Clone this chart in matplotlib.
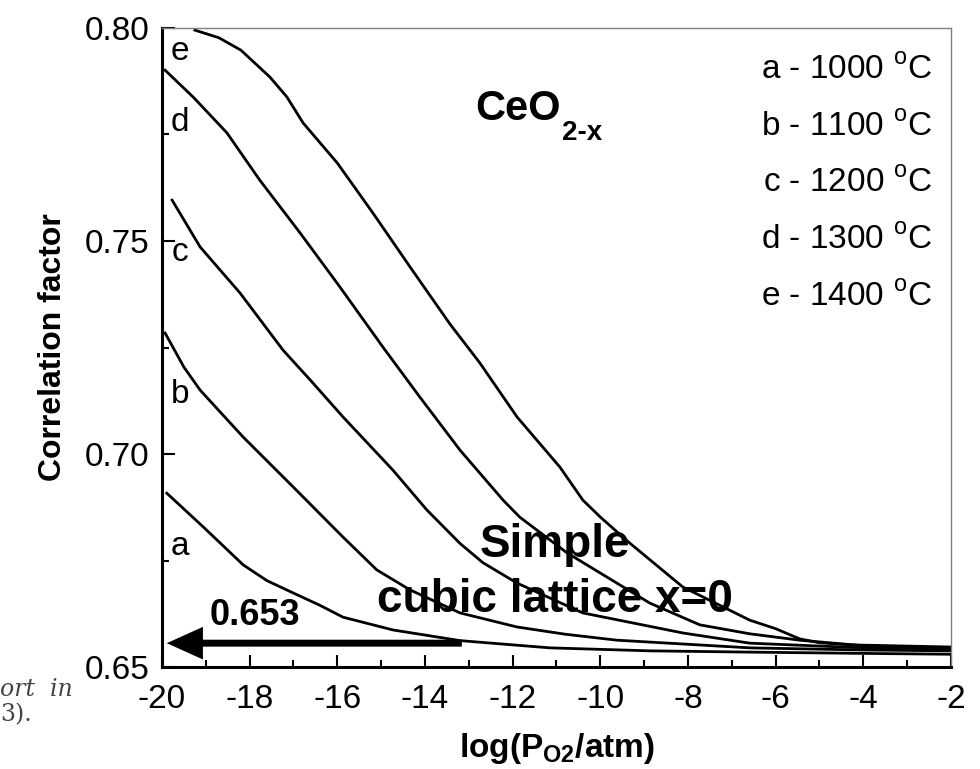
import matplotlib
matplotlib.use("Agg")
import matplotlib.pyplot as plt
from matplotlib.ticker import MultipleLocator, FormatStrFormatter

plt.rcParams['font.family'] = ['Liberation Sans', 'DejaVu Sans']
plt.rcParams['mathtext.fontset'] = 'custom'
plt.rcParams['mathtext.rm'] = 'Liberation Sans'
plt.rcParams['mathtext.bf'] = 'Liberation Sans:bold'
plt.rcParams['axes.unicode_minus'] = False

# curves (log pO2, correlation factor)
xa = [-19.89, -19.06, -18.15, -17.61, -17.01, -16.4, -15.87, -14.73, -13.2, -11.15, -8.87, -6.59, -4.0, -2.0]
ya = [0.6908, 0.6829, 0.6740, 0.6703, 0.6674, 0.6645, 0.6617, 0.6587, 0.6562, 0.6545, 0.6538, 0.6535, 0.6532, 0.6530]

xb = [-19.93, -19.5, -19.13, -18.15, -17.01, -15.87, -15.1, -14.34, -13.2, -11.9, -10.8, -9.62, -6.59, -4.0, -2.0]
yb = [0.7284, 0.7204, 0.7150, 0.7040, 0.6923, 0.6805, 0.6728, 0.6681, 0.6627, 0.6594, 0.6577, 0.6563, 0.6545, 0.6540, 0.6538]

xc = [-19.77, -19.13, -18.22, -17.24, -16.62, -15.87, -14.73, -13.96, -13.2, -12.68, -11.9, -11.15, -10.4, -8.12, -6.59, -4.0, -2.0]
yc = [0.7596, 0.7486, 0.7378, 0.7244, 0.7174, 0.7087, 0.6962, 0.6869, 0.6790, 0.6745, 0.6697, 0.6662, 0.6627, 0.6580, 0.6556, 0.6545, 0.6542]

xd = [-19.93, -19.29, -18.52, -17.77, -16.85, -15.94, -14.96, -14.12, -13.2, -12.22, -11.84, -10.76, -8.87, -7.73, -6.59, -5.45, -4.0, -2.0]
yd = [0.7901, 0.7838, 0.7754, 0.7643, 0.7519, 0.7392, 0.7251, 0.7134, 0.7009, 0.6892, 0.6852, 0.6768, 0.6650, 0.6599, 0.6578, 0.6563, 0.6550, 0.6545]

xe = [-19.25, -18.7, -18.2, -17.54, -17.15, -16.78, -16.0, -15.19, -14.34, -13.43, -12.75, -11.9, -10.92, -10.4, -10.0,
      -9.33, -8.12, -6.59, -6.0, -5.45, -5.0, -4.31, -2.0]
ye = [0.7995, 0.7977, 0.7948, 0.7885, 0.7838, 0.7777, 0.7683, 0.7566, 0.7439, 0.7305, 0.7214, 0.7087, 0.6969, 0.6892, 0.6852,
      0.6791, 0.6688, 0.6610, 0.6590, 0.6566, 0.6557, 0.6552, 0.6547]

curve_labels = ['a', 'b', 'c', 'd', 'e']
label_y = [0.6782, 0.7139, 0.7472, 0.7777, 0.7944]
legend_lines = ['a - 1000 $^{\\mathrm{o}}$C', 'b - 1100 $^{\\mathrm{o}}$C', 'c - 1200 $^{\\mathrm{o}}$C',
                'd - 1300 $^{\\mathrm{o}}$C', 'e - 1400 $^{\\mathrm{o}}$C']
limit_value = '0.653'

fig = plt.figure(figsize=(9.8, 7.69), dpi=100)
ax = fig.add_axes([0.1653, 0.1326, 0.8051, 0.831])

for x, y in [(xa, ya), (xb, yb), (xc, yc), (xd, yd), (xe, ye)]:
    ax.plot(x, y, color='k', lw=2.0, solid_joinstyle='round')

ax.set_xlim(-20, -2)
ax.set_ylim(0.65, 0.80)
ax.xaxis.set_major_locator(MultipleLocator(2))
ax.xaxis.set_minor_locator(MultipleLocator(1))
ax.yaxis.set_major_locator(MultipleLocator(0.05))
ax.yaxis.set_minor_locator(MultipleLocator(0.025))
ax.yaxis.set_major_formatter(FormatStrFormatter('%.2f'))
ax.tick_params(which='both', direction='in', top=False, right=False, width=1.5, labelsize=24)
ax.tick_params(which='major', length=9, pad=9)
ax.tick_params(which='minor', length=5)
ax.tick_params(axis='x', which='major', pad=12)

for s in ['left', 'bottom']:
    ax.spines[s].set_linewidth(2.2)
for s in ['top', 'right']:
    ax.spines[s].set_linewidth(1.0)
    ax.spines[s].set_color('#808080')

ax.set_xlabel(r'$\mathbf{log(P_{O2}/atm)}$', fontsize=24, labelpad=12)
ax.set_ylabel('Correlation factor', fontsize=23, fontweight='bold', labelpad=12)

for lab, ly in zip(curve_labels, label_y):
    ax.text(-19.59, ly, lab, fontsize=24, ha='center', va='center')

leg_y = [0.934, 0.845, 0.757, 0.668, 0.579]
for txt, yy in zip(legend_lines, leg_y):
    ax.text(0.976, yy, txt, transform=ax.transAxes, fontsize=24, ha='right', va='center')

t = ax.text(0.397, 0.856, 'CeO', transform=ax.transAxes, fontsize=30, fontweight='bold', va='baseline')
ax.annotate('2-x', xy=(1, 0), xycoords=t, xytext=(1, -8), textcoords='offset points',
            fontsize=20, fontweight='bold', va='baseline', ha='left')

ax.text(0.498, 0.191, 'Simple', transform=ax.transAxes, fontsize=33, fontweight='bold', ha='center', va='center')
ax.text(0.498, 0.105, 'cubic lattice x=0', transform=ax.transAxes, fontsize=33, fontweight='bold', ha='center', va='center')

ax.annotate('', xy=(-19.89, 0.6556), xytext=(-13.16, 0.6556),
            arrowprops=dict(arrowstyle='simple,head_length=0.52,head_width=0.47,tail_width=0.1',
                            mutation_scale=50, color='k', lw=0, shrinkA=0, shrinkB=0))
ax.text(0.118, 0.081, limit_value, transform=ax.transAxes, fontsize=26, fontweight='bold', ha='center', va='center')

# cropped caption fragments at the lower left of the source image
fig.text(0.0, 0.103, 'ort  in', fontsize=17, family='DejaVu Serif', style='italic', color='#444444', va='center')
fig.text(0.0, 0.07, '3).', fontsize=17, family='DejaVu Serif', color='#444444', va='center')

fig.savefig('out.png', dpi=100)
